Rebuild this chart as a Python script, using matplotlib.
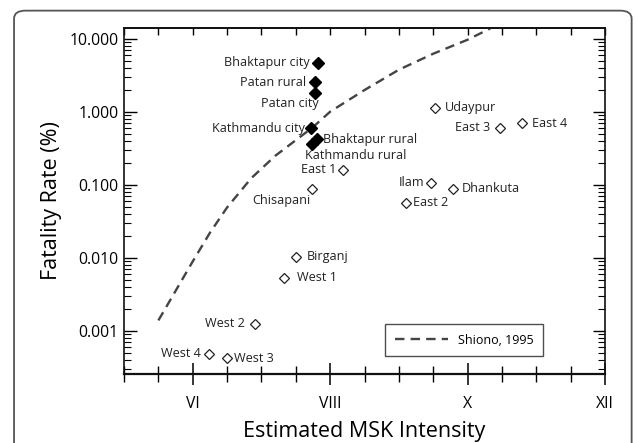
import matplotlib
matplotlib.use("Agg")
import matplotlib.pyplot as plt
from matplotlib.patches import FancyBboxPatch
import numpy as np

plt.rcParams['font.family'] = ['Open Sans', 'DejaVu Sans']

# filled diamonds (Kathmandu valley)
city_names = ["Bhaktapur city", "Patan rural", "Patan city", "Kathmandu city",
              "Bhaktapur rural", "Kathmandu rural"]
city_msk = [7.82, 7.775, 7.78, 7.72, 7.81, 7.74]
city_rate = [4.7, 2.55, 1.85, 0.60, 0.42, 0.36]

# open diamonds (other districts)
dist_names = ["Chisapani", "East 1", "Udaypur", "East 3", "East 4", "Ilam",
              "Dhankuta", "East 2", "Birganj", "West 1", "West 2", "West 4", "West 3"]
dist_msk = [7.73, 8.19, 9.53, 10.47, 10.79, 9.47, 9.79, 9.10, 7.50, 7.33, 6.90, 6.24, 6.50]
dist_rate = [0.088, 0.16, 1.14, 0.61, 0.70, 0.107, 0.088, 0.057, 0.0103, 0.0053,
             0.00124, 0.00048, 0.00042]

# Shiono (1995) curve
shiono_msk = [5.5, 5.75, 6.0, 6.25, 6.5, 6.85, 7.2, 7.5, 7.75, 8.0, 8.5, 9.0, 9.5, 10.0, 10.33]
shiono_rate = [0.00138, 0.0035, 0.0089, 0.022, 0.049, 0.123, 0.25, 0.41, 0.62, 1.01,
               2.0, 3.8, 6.3, 9.8, 14.0]

# label offsets in points (dx, dy, ha)
city_off = [(-6, 0, 'right'), (-6, 0, 'right'), (3, -8, 'right'), (-4, 0, 'right'),
            (4, 0, 'left'), (-5, -8, 'left')]
dist_off = [(-1, -8, 'right'), (-5, 0, 'right'), (7, 0, 'left'), (-7, 0, 'right'),
            (7, 0, 'left'), (-5, 0, 'right'), (6, 0, 'left'), (5, 0, 'left'),
            (8, 0, 'left'), (9, 0, 'left'), (-7, 0, 'right'), (-6, 0, 'right'),
            (5, 0, 'left')]

fig = plt.figure(figsize=(6.38, 4.43), dpi=100)
frame = FancyBboxPatch((0.022, -0.1), 0.968, 1.076, boxstyle="round,pad=0,rounding_size=0.018",
                       transform=fig.transFigure, fill=False, edgecolor='#555555', lw=1.3)
fig.patches.append(frame)

ax = fig.add_axes([0.1944, 0.1558, 0.7539, 0.781])

ax.plot(shiono_msk, shiono_rate, color='#444444', lw=1.7, linestyle=(0, (4, 2.6)),
        label='Shiono, 1995')
ax.plot(city_msk, city_rate, 'D', color='black', ms=5.8, ls='none')
ax.plot(dist_msk, dist_rate, 'D', mfc='white', mec='#222222', mew=0.9, ms=5, ls='none')

for names, xs, ys, offs in [(city_names, city_msk, city_rate, city_off),
                            (dist_names, dist_msk, dist_rate, dist_off)]:
    for n, x, y, (dx, dy, ha) in zip(names, xs, ys, offs):
        ax.annotate(n, (x, y), xytext=(dx, dy), textcoords='offset points',
                    ha=ha, va='center', fontsize=9.1, color='#222222')

ax.set_yscale('log')
ax.set_xlim(5, 12)
ax.set_ylim(2.54e-4, 14.2)

ax.set_xticks([6, 8, 10, 12])
ax.set_xticklabels(['VI', 'VIII', 'X', 'XII'])
ax.set_xticks(np.arange(5, 12.01, 0.5), minor=True)
ax.set_yticks([0.001, 0.01, 0.1, 1, 10])
ax.set_yticklabels(['0.001', '0.010', '0.100', '1.000', '10.000'])

ax.tick_params(axis='x', which='major', direction='inout', length=16, width=1.1,
               labelsize=11.3, pad=8)
ax.tick_params(axis='x', which='minor', direction='inout', length=11, width=1.0)
ax.tick_params(axis='y', which='major', direction='in', length=9, width=1.0,
               right=True, labelsize=11.3, pad=4)
ax.tick_params(axis='y', which='minor', direction='in', length=5, width=0.8, right=True)

top = ax.secondary_xaxis('top')
top.set_xticks(np.arange(5, 12.01, 1.0))
top.set_xticks(np.arange(5, 12.01, 0.5), minor=True)
top.tick_params(which='both', direction='in', length=5, width=1.0, labeltop=False)

for s in ax.spines.values():
    s.set_linewidth(1.2)
    s.set_color('#111111')
ax.spines['bottom'].set_linewidth(1.6)
top.spines['top'].set_linewidth(1.2)

ax.set_xlabel('Estimated MSK Intensity', fontsize=15.5, labelpad=6)
ax.set_ylabel('Fatality Rate (%)', fontsize=15.5, labelpad=5)

leg = ax.legend(loc='lower left', bbox_to_anchor=(0.543, 0.052, 0.328, 0.093), mode='expand',
                fontsize=9, handlelength=4.3, frameon=True, fancybox=False,
                borderaxespad=0, borderpad=0.75)
leg.get_frame().set_edgecolor('#222222')
leg.get_frame().set_linewidth(1.0)

fig.savefig('out.png', dpi=100)
